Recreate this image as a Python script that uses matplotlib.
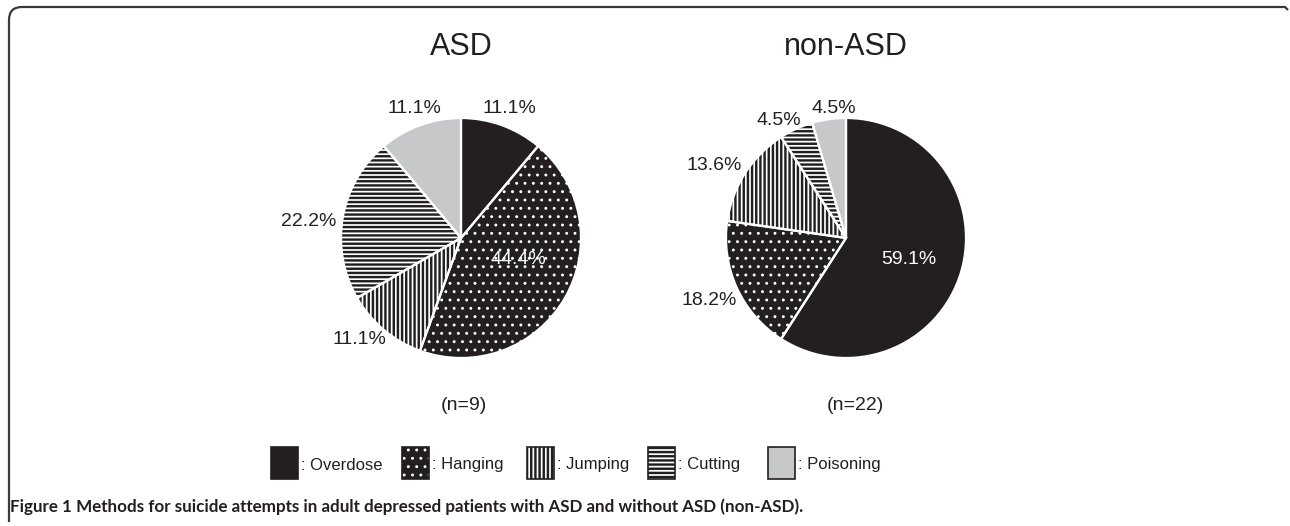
import matplotlib
matplotlib.use("Agg")
import matplotlib.pyplot as plt
from matplotlib.patches import Rectangle, PathPatch
from matplotlib.path import Path
from matplotlib import font_manager

# ---------------- data ----------------
categories = ["Overdose", "Hanging", "Jumping", "Cutting", "Poisoning"]
groups = ["ASD", "non-ASD"]
asd_counts = [1, 4, 1, 2, 1]          # n = 9
non_asd_counts = [13, 4, 3, 1, 1]     # n = 22
n_labels = ["(n=9)", "(n=22)"]
caption_bold = "Figure 1"
caption_rest = " Methods for suicide attempts in adult depressed patients with ASD and without ASD (non-ASD)."

# ---------------- style ----------------
BLACK = "#231f20"
GRAY = "#c7c8ca"
faces = [BLACK, BLACK, "white", "white", GRAY]
hatch_cols = [BLACK, "white", BLACK, BLACK, GRAY]
hatches = [None, "..", "||||", "----", None]
STRIPE_LW = 1.75
DOT_LW = 0.9

plt.rcParams["font.family"] = ["Liberation Sans", "DejaVu Sans"]
plt.rcParams["hatch.linewidth"] = STRIPE_LW

installed = {f.name for f in font_manager.fontManager.ttflist}
cap_family = ["Liberation Sans Narrow"] if "Liberation Sans Narrow" in installed else []
cap_family += ["Lato", "DejaVu Sans"]

W, H = 1290, 526
fig = plt.figure(figsize=(W / 100, H / 100), dpi=100)
fig.patch.set_facecolor("white")

bg = fig.add_axes([0, 0, 1, 1])
bg.set_xlim(0, W)
bg.set_ylim(H, 0)
bg.axis("off")

R_PX = 124.0
S_PX = 300.0
LIM = S_PX / 2 / R_PX
centers = [(461, 238), (846, 238)]

# label positions (in pie-radius units), layout only
label_pos = [
    [(0.40, 1.08), (0.48, -0.18), (-0.85, -0.85), (-1.27, 0.14), (-0.39, 1.08)],
    [(0.52, -0.18), (-1.14, -0.52), (-1.10, 0.60), (-0.56, 0.98), (-0.10, 1.08)],
]
label_white = [[False, True, False, False, False], [True, False, False, False, False]]


def set_hlw(p, lw):
    if hasattr(p, "set_hatch_linewidth"):
        p.set_hatch_linewidth(lw)


for gi, counts in enumerate([asd_counts, non_asd_counts]):
    cx, cy = centers[gi]
    ax = fig.add_axes([(cx - S_PX / 2) / W, (H - cy - S_PX / 2) / H, S_PX / W, S_PX / H])
    ax.set_xlim(-LIM, LIM)
    ax.set_ylim(-LIM, LIM)
    ax.set_aspect("equal")
    ax.axis("off")
    wedges, _ = ax.pie(counts, startangle=90, counterclock=False, radius=1,
                       colors=faces, wedgeprops=dict(linewidth=0))
    for w, hc, h in zip(wedges, hatch_cols, hatches):
        w.set_edgecolor(hc)
        w.set_linewidth(0)
        if h:
            w.set_hatch(h)
            set_hlw(w, STRIPE_LW if h != ".." else DOT_LW)
    # white separators
    ax.pie(counts, startangle=90, counterclock=False, radius=1,
           colors=["none"] * len(counts),
           wedgeprops=dict(linewidth=1.6, edgecolor="white", facecolor="none"))
    total = sum(counts)
    for i, c in enumerate(counts):
        lx, ly = label_pos[gi][i]
        ax.text(lx, ly, f"{100 * c / total:.1f}%", ha="center", va="center",
                fontsize=14, color="white" if label_white[gi][i] else BLACK)
    # title and n
    bg.text(cx, 47, groups[gi], ha="center", va="center", fontsize=22, color=BLACK)
    bg.text(cx + 3 + gi * 6, 405, n_labels[gi], ha="center", va="center", fontsize=14, color=BLACK)

# ---------------- legend ----------------
box_x = [271, 402, 527, 648, 768]
box_w, box_y, box_h = 27, 447, 32
for i, cat in enumerate(categories):
    r = Rectangle((box_x[i], box_y), box_w, box_h, facecolor=faces[i],
                  edgecolor=hatch_cols[i] if hatches[i] else BLACK, linewidth=0)
    if hatches[i]:
        r.set_hatch(hatches[i])
        set_hlw(r, STRIPE_LW if hatches[i] != ".." else DOT_LW)
    bg.add_patch(r)
    bg.add_patch(Rectangle((box_x[i], box_y), box_w, box_h, facecolor="none",
                           edgecolor=BLACK, linewidth=1.2))
    bg.text(box_x[i] + box_w + 3, box_y + box_h / 2 + 2, ": " + cat, ha="left", va="center",
            fontsize=12, color=BLACK)

# ---------------- frame ----------------
verts = [(9, 522), (9, 20), (9, 7), (22, 7), (1285, 7), (1288, 10)]
codes = [Path.MOVETO, Path.LINETO, Path.CURVE3, Path.CURVE3, Path.LINETO, Path.LINETO]
bg.add_patch(PathPatch(Path(verts, codes), facecolor="none", edgecolor="#3a3a3a", linewidth=1.6))

# ---------------- caption ----------------
fig.canvas.draw()
renderer = fig.canvas.get_renderer()
fs = 13.0
t1 = bg.text(10, 507, caption_bold, ha="left", va="center", fontsize=fs,
             fontweight="bold", color=BLACK, family=cap_family)
t2 = bg.text(0, 507, caption_rest, ha="left", va="center", fontsize=fs,
             fontweight="bold", color=BLACK, family=cap_family)


def layout(size):
    t1.set_fontsize(size)
    t2.set_fontsize(size)
    e1 = t1.get_window_extent(renderer)
    t2.set_x(10 + e1.width)
    e2 = t2.get_window_extent(renderer)
    return e1.width + e2.width


width = layout(fs)
fs = min(15.0, fs * 793.0 / width)
layout(fs)

fig.savefig("out.png", dpi=100, facecolor="white")
